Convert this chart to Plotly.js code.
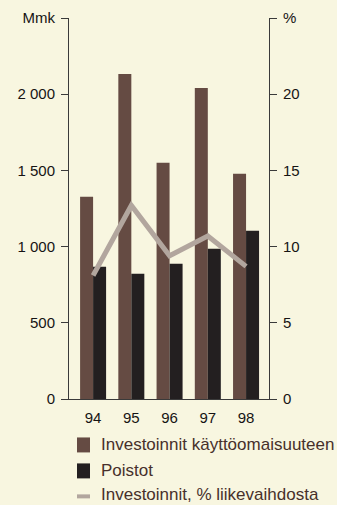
<!DOCTYPE html>
<html><head><meta charset="utf-8">
<script src="https://cdn.plot.ly/plotly-3.0.1.min.js"></script>
<style>body{margin:0;background:#f8f6e0}</style>
</head><body><div id="c" style="width:337px;height:505px"></div>
<script>
var years = ["94","95","96","97","98"];
var investoinnit = [1327, 2133, 1550, 2041, 1478];
var poistot = [868, 822, 888, 986, 1104];
var investPct = [8.1, 12.7, 9.4, 10.7, 8.7];
var leftTickVals = [0, 500, 1000, 1500, 2000, 2500];
var leftTickText = ["0", "500", "1 000", "1 500", "2 000", "Mmk"];
var rightTickVals = [0, 5, 10, 15, 20, 25];
var rightTickText = ["0", "5", "10", "15", "20", "%"];
var legendNames = ["Investoinnit käyttöomaisuuteen", "Poistot", "Investoinnit, % liikevaihdosta"];

var C_BROWN = "#654b43", C_BLACK = "#231f20", C_GREY = "#b2a69e", BG = "#f8f6e0";
var xs = years.map(function(_, i){ return i; });

var L = 69, R = 269, T = 18, B = 399.5;
function px(x){ return (x - L) / (R - L); }
function py(y){ return (B - y) / (B - T); }

var traces = [
  {type:"bar", x:xs, y:investoinnit, name:legendNames[0], marker:{color:C_BROWN}, hoverinfo:"none"},
  {type:"bar", x:xs, y:poistot, name:legendNames[1], marker:{color:C_BLACK}, hoverinfo:"none"},
  {type:"scatter", mode:"lines", x:xs, y:investPct, yaxis:"y2", name:legendNames[2],
   line:{color:C_GREY, width:5}, hoverinfo:"none"}
];

var shapes = [
  {type:"rect", xref:"paper", yref:"paper", x0:px(77), x1:px(90), y0:py(453), y1:py(438), fillcolor:C_BROWN, line:{width:0}},
  {type:"rect", xref:"paper", yref:"paper", x0:px(77), x1:px(90), y0:py(479), y1:py(464), fillcolor:C_BLACK, line:{width:0}},
  {type:"line", xref:"paper", yref:"paper", x0:px(77), x1:px(90), y0:py(497), y1:py(497), line:{color:C_GREY, width:4}}
];
var legY = [445, 471, 495.5];
var annotations = legendNames.map(function(t, i){
  return {xref:"paper", yref:"paper", x:px(98.5), y:py(legY[i]), xanchor:"left", yanchor:"middle",
    text:t, showarrow:false, font:{family:"Liberation Sans, Arial, sans-serif", size:17, color:"#47302b"}};
});

var tickFont = {family:"Liberation Sans, Arial, sans-serif", size:15, color:"#161414"};
var layout = {
  width:337, height:505,
  margin:{l:L, r:337-R, t:T, b:505-B, pad:0},
  paper_bgcolor:BG, plot_bgcolor:BG,
  showlegend:false,
  barmode:"group", bargap:0.32, bargroupgap:0,
  xaxis:{range:[-0.63, 4.6], tickvals:xs, ticktext:years, ticks:"outside", ticklen:5,
    tickcolor:"rgba(0,0,0,0)", showgrid:false, zeroline:false,
    showline:true, linecolor:"#3a3a3a", linewidth:1, tickfont:tickFont, fixedrange:true},
  yaxis:{range:[0, 2500], tickvals:leftTickVals, ticktext:leftTickText, ticks:"outside", ticklen:7,
    tickcolor:"#3a3a3a", tickwidth:1, showline:true, linecolor:"#3a3a3a", linewidth:1,
    showgrid:false, zeroline:false, tickfont:tickFont, ticklabelstandoff:3},
  yaxis2:{range:[0, 25], overlaying:"y", side:"right", tickvals:rightTickVals, ticktext:rightTickText,
    ticks:"outside", ticklen:7, tickcolor:"#3a3a3a", tickwidth:1, showline:true, linecolor:"#3a3a3a",
    linewidth:1, showgrid:false, zeroline:false, tickfont:tickFont, ticklabelstandoff:3},
  shapes:shapes, annotations:annotations
};
Plotly.newPlot("c", traces, layout, {staticPlot:true, displayModeBar:false});
</script></body></html>
